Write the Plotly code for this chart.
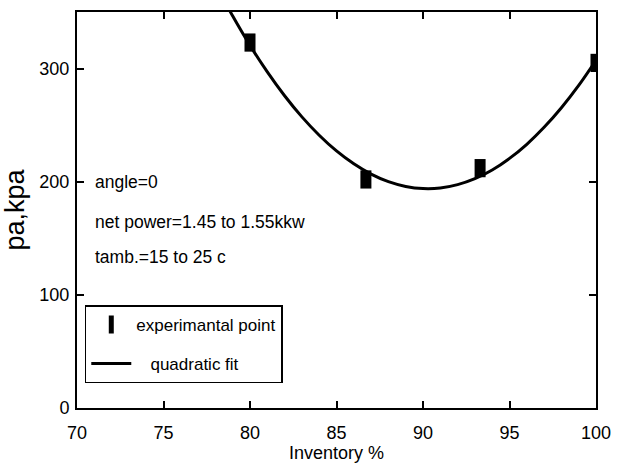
import plotly.graph_objects as go

inv_pts = [80.0, 86.7, 93.3, 100.0]
pa_pts = [323, 202, 212, 305]

# quadratic fit curve
inv_fit = [78.8, 79, 80, 81, 82, 83, 84, 85, 86, 87, 88, 89, 90, 91, 92, 93, 94, 95, 96, 97, 98, 99, 100]
pa_fit = [352, 346.4, 320.5, 297.1, 276.0, 257.3, 241.1, 227.2, 215.8, 206.7, 200.0, 195.8, 193.9,
          194.4, 197.4, 202.7, 210.4, 220.6, 233.1, 248.1, 265.4, 285.1, 307.3]

x_ticks = [70, 75, 80, 85, 90, 95, 100]
y_ticks = [0, 100, 200, 300]

notes = ["angle=0", "net power=1.45 to 1.55kkw", "tamb.=15 to 25 c"]

FONT = "Liberation Sans, Arial"

fig = go.Figure()
fig.add_trace(go.Scatter(
    x=inv_pts, y=pa_pts, mode="markers", name="experimantal point",
    legendgroup="a",
    marker=dict(symbol="line-ns", size=13, color="black",
                line=dict(width=11, color="black")),
))
fig.add_trace(go.Scatter(
    x=inv_fit, y=pa_fit, mode="lines", name="\u00a0\u00a0\u00a0quadratic fit",
    legendgroup="b",
    line=dict(color="black", width=3, shape="spline"),
))

ann_y = [0.570, 0.470, 0.382]
for t, yy in zip(notes, ann_y):
    fig.add_annotation(text=t, xref="paper", yref="paper", x=0.031, y=yy,
                       xanchor="left", yanchor="middle", showarrow=False,
                       font=dict(family=FONT, size=17.5, color="black"))

axis_common = dict(
    showgrid=False, zeroline=False, showline=True, linecolor="black", linewidth=2,
    mirror="ticks", ticks="inside", ticklen=7, tickwidth=1.5, tickcolor="black",
    tickfont=dict(family=FONT, size=18, color="black"),
)

fig.update_layout(
    width=621, height=468,
    margin=dict(l=74, r=21, t=10, b=60),
    paper_bgcolor="white", plot_bgcolor="white",
    showlegend=True,
    legend=dict(x=0.015, y=0.259, xanchor="left", yanchor="top",
                bordercolor="black", borderwidth=1.5, bgcolor="white",
                font=dict(family=FONT, size=17, color="black"),
                tracegroupgap=14, itemwidth=40),
    xaxis=dict(range=[70, 100], tickvals=x_ticks, ticklabelstandoff=7, **axis_common,
               title=dict(text="Inventory %", font=dict(family=FONT, size=18, color="black"),
                          standoff=0)),
    yaxis=dict(range=[0, 350], tickvals=y_ticks, ticklabelstandoff=2, **axis_common,
               title=dict(text="pa,kpa", font=dict(family=FONT, size=27, color="black"),
                          standoff=10)),
)

fig.write_html("out.html")
